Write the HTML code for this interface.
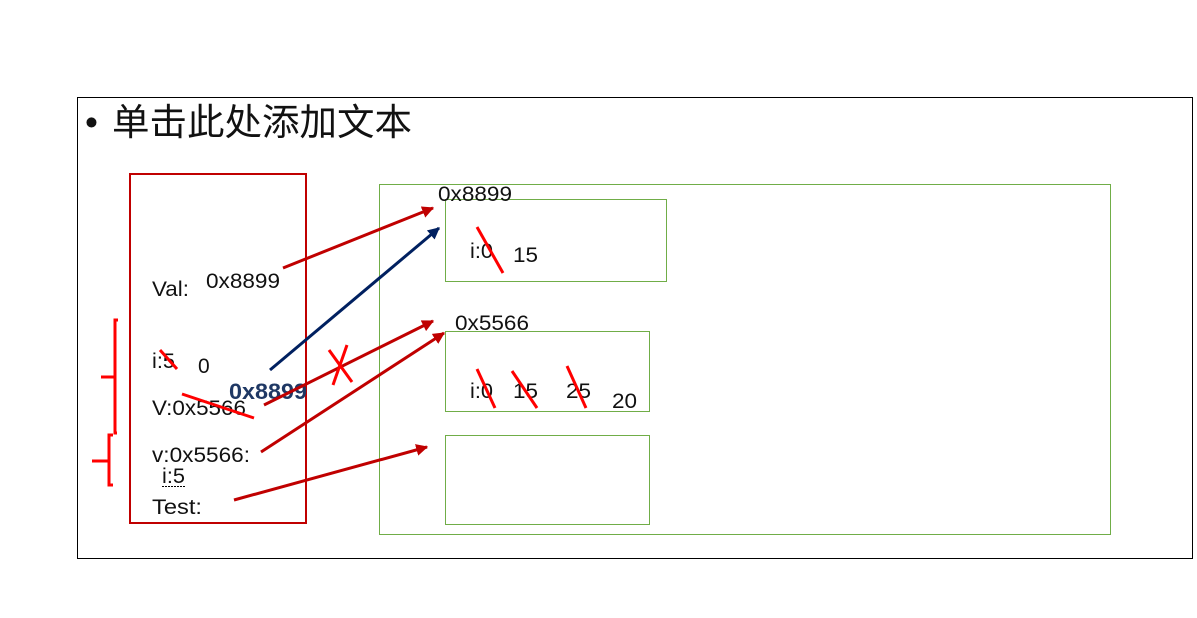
<!DOCTYPE html>
<html><head><meta charset="utf-8"><style>
html,body{margin:0;padding:0;background:#fff;}
svg{display:block;}
text{font-family:"Liberation Sans","Noto Sans CJK SC",sans-serif;fill:#111;}
</style></head><body>
<svg width="1197" height="618" viewBox="0 0 1197 618" xmlns="http://www.w3.org/2000/svg">
<defs>
<marker id="ar" viewBox="0 0 10 10" refX="9" refY="5" markerWidth="4" markerHeight="4" orient="auto"><path d="M0,0 L10,5 L0,10 z" fill="#c00000"/></marker>
<marker id="ab" viewBox="0 0 10 10" refX="9" refY="5" markerWidth="4" markerHeight="4" orient="auto"><path d="M0,0 L10,5 L0,10 z" fill="#002060"/></marker>
</defs>
<rect x="77.5" y="97.5" width="1115" height="461" fill="none" stroke="#000" stroke-width="1"/>
<text x="85" y="135" font-size="37">•</text>
<text x="112" y="135" font-size="37" textLength="300" lengthAdjust="spacingAndGlyphs">单击此处添加文本</text>

<rect x="130" y="174" width="176" height="349" fill="none" stroke="#c00000" stroke-width="2"/>
<rect x="379.5" y="184.5" width="731" height="350" fill="none" stroke="#70ad47" stroke-width="1"/>
<rect x="445.5" y="199.5" width="221" height="82" fill="none" stroke="#70ad47" stroke-width="1"/>
<rect x="445.5" y="331.5" width="204" height="80" fill="none" stroke="#70ad47" stroke-width="1"/>
<rect x="445.5" y="435.5" width="204" height="89" fill="none" stroke="#70ad47" stroke-width="1"/>

<g font-size="21" style="fill:#222">
<text x="438" y="201" textLength="74" lengthAdjust="spacingAndGlyphs">0x8899</text>
<text x="470" y="258" textLength="23" lengthAdjust="spacingAndGlyphs">i:0</text>
<text x="513" y="262" textLength="25" lengthAdjust="spacingAndGlyphs">15</text>
<text x="455" y="330" textLength="74" lengthAdjust="spacingAndGlyphs">0x5566</text>
<text x="470" y="398" textLength="23" lengthAdjust="spacingAndGlyphs">i:0</text>
<text x="513" y="398" textLength="25" lengthAdjust="spacingAndGlyphs">15</text>
<text x="566" y="398" textLength="25" lengthAdjust="spacingAndGlyphs">25</text>
<text x="612" y="408" textLength="25" lengthAdjust="spacingAndGlyphs">20</text>
<text x="152" y="296" textLength="37" lengthAdjust="spacingAndGlyphs">Val:</text>
<text x="206" y="288" textLength="74" lengthAdjust="spacingAndGlyphs">0x8899</text>
<text x="152" y="368" textLength="23" lengthAdjust="spacingAndGlyphs">i:5</text>
<text x="198" y="373">0</text>
<text x="152" y="415" textLength="94" lengthAdjust="spacingAndGlyphs">V:0x5566</text>
<text x="152" y="462" textLength="98" lengthAdjust="spacingAndGlyphs">v:0x5566:</text>
<text x="162" y="483" textLength="23" lengthAdjust="spacingAndGlyphs">i:5</text>
<text x="152" y="514" textLength="50" lengthAdjust="spacingAndGlyphs">Test:</text>
</g>
<line x1="162" y1="486.5" x2="186" y2="486.5" stroke="#000" stroke-dasharray="2,1" stroke-width="1"/>
<text x="229" y="399" font-size="22" font-weight="bold" textLength="78" lengthAdjust="spacingAndGlyphs" style="fill:#1f3864">0x8899</text>

<g stroke="#c00000" stroke-width="3" fill="none">
<line x1="283" y1="268" x2="433" y2="208" marker-end="url(#ar)"/>
<line x1="264" y1="405" x2="433" y2="321" marker-end="url(#ar)"/>
<line x1="261" y1="452" x2="444" y2="333" marker-end="url(#ar)"/>
<line x1="234" y1="500" x2="427" y2="447" marker-end="url(#ar)"/>
</g>
<line x1="270" y1="370" x2="439" y2="228" stroke="#002060" stroke-width="3" marker-end="url(#ab)"/>

<g stroke="#ff0000" stroke-width="3" fill="none">
<line x1="329" y1="350" x2="352" y2="382"/>
<line x1="347" y1="345" x2="333" y2="385"/>
<line x1="160" y1="350" x2="177" y2="369"/>
<line x1="182" y1="394" x2="254" y2="418"/>
<line x1="477" y1="227" x2="503" y2="273"/>
<line x1="477" y1="369" x2="495" y2="408"/>
<line x1="512" y1="371" x2="537" y2="408"/>
<line x1="567" y1="366" x2="586" y2="408"/>
<path d="M118,320 H115 V433 H117 M101,377 H115"/>
<path d="M113,435 H109 V485 H113 M92,461 H109"/>
</g>
</svg>
</body></html>
